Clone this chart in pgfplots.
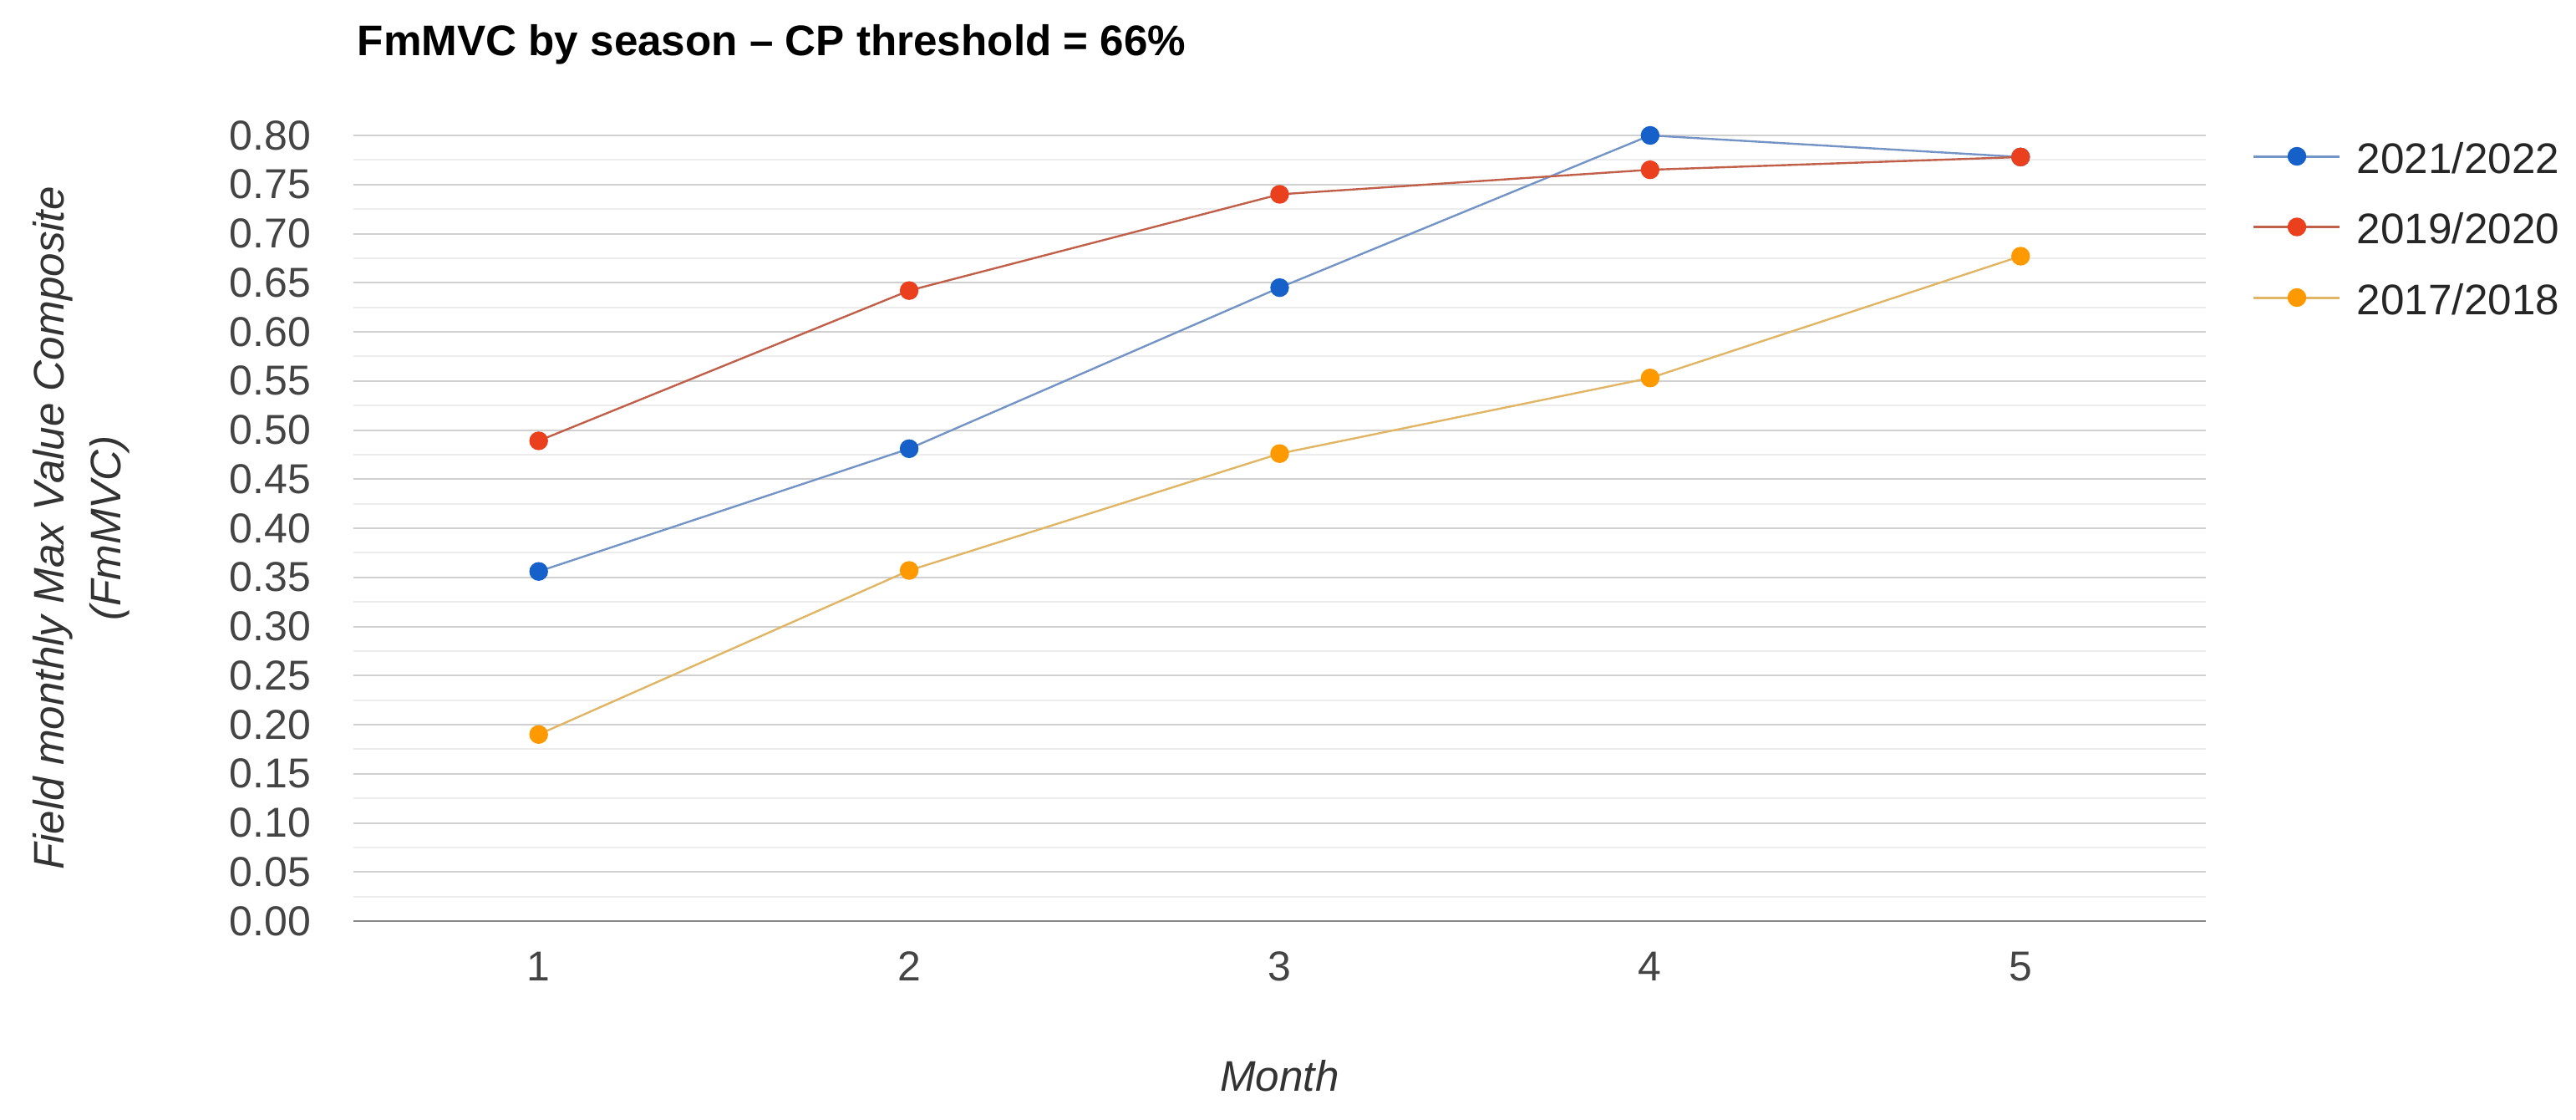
\documentclass[border=0pt]{standalone}
\usepackage{fontspec}
\setmainfont{Liberation Sans}
\usepackage{pgfplots}
\pgfplotsset{compat=1.18}

\definecolor{bluemk}{HTML}{1660C9}
\definecolor{blueline}{HTML}{7494C6}
\definecolor{redmk}{HTML}{EA401E}
\definecolor{redline}{HTML}{C0604A}
\definecolor{orangemk}{HTML}{FF9900}
\definecolor{orangeline}{HTML}{E0B565}
\definecolor{gridmaj}{HTML}{D0D0D0}
\definecolor{gridmin}{HTML}{ECECEC}
\definecolor{basecol}{HTML}{888888}
\definecolor{tickcol}{HTML}{444444}
\definecolor{labcol}{HTML}{333333}

\newcommand\tickfont{\fontsize{12.5}{15}\selectfont}
\newcommand\legfont{\fontsize{12.8}{15}\selectfont}

\begin{document}
\begin{tikzpicture}
\begin{axis}[
  scale only axis,
  width=554.25pt, height=235pt,
  xmin=0.5, xmax=5.5, ymin=0, ymax=0.8,
  xtick={1,2,3,4,5},
  ytick={0,0.05,0.1,0.15,0.2,0.25,0.3,0.35,0.4,0.45,0.5,0.55,0.6,0.65,0.7,0.75,0.8},
  minor y tick num=1,
  xtick style={draw=none}, ytick style={draw=none},
  minor tick style={draw=none},
  axis line style={draw=none},
  ymajorgrids, yminorgrids,
  major grid style={color=gridmaj, line width=0.5pt},
  minor grid style={color=gridmin, line width=0.5pt},
  clip=false,
  ticklabel style={font=\tickfont, text=tickcol},
  yticklabel style={anchor=east, inner sep=0pt, xshift=-12.5pt,
    /pgf/number format/.cd, fixed, fixed zerofill, precision=2, assume math mode=true},
  xticklabel style={anchor=north, inner sep=0pt, yshift=-9pt,
    /pgf/number format/assume math mode=true},
  legend style={at={(1.02526,0.99468)}, anchor=north west, draw=none, fill=none,
    inner sep=0pt, outer sep=0pt, row sep=11.125pt, column sep=4.75pt,
    nodes={inner sep=0pt, text height=10pt, text depth=0pt, font=\legfont, text=black!85}},
  legend cell align=left,
]
\addplot[color=blueline, line width=0.6pt, mark=*, mark size=2.5pt,
  mark options={fill=bluemk, draw=bluemk},
  legend image code/.code={\draw[blueline, line width=0.75pt] (0pt,0pt) -- (25.75pt,0pt);
    \fill[bluemk] (12.875pt,0pt) circle (2.5pt);}]
  coordinates {(1,0.356) (2,0.481) (3,0.645) (4,0.800) (5,0.778)};
\addplot[color=redline, line width=0.6pt, mark=*, mark size=2.5pt,
  mark options={fill=redmk, draw=redmk},
  legend image code/.code={\draw[redline, line width=0.75pt] (0pt,0pt) -- (25.75pt,0pt);
    \fill[redmk] (12.875pt,0pt) circle (2.5pt);}]
  coordinates {(1,0.489) (2,0.642) (3,0.740) (4,0.765) (5,0.778)};
\addplot[color=orangeline, line width=0.6pt, mark=*, mark size=2.5pt,
  mark options={fill=orangemk, draw=orangemk},
  legend image code/.code={\draw[orangeline, line width=0.75pt] (0pt,0pt) -- (25.75pt,0pt);
    \fill[orangemk] (12.875pt,0pt) circle (2.5pt);}]
  coordinates {(1,0.190) (2,0.357) (3,0.476) (4,0.553) (5,0.677)};
\legend{2021/2022, 2019/2020, 2017/2018}
\draw[basecol, line width=0.6pt] (axis cs:0.5,0) -- (axis cs:5.5,0);
\end{axis}
% titles and axis labels
\node[anchor=base west, inner sep=0pt, font=\fontsize{12.8}{15}\selectfont\bfseries]
  at (1pt,258.75pt) {FmMVC by season – CP threshold = 66\%};
\node[anchor=base, inner sep=0pt, font=\fontsize{12.8}{15}\selectfont\itshape, text=labcol]
  at (277.1pt,-50.75pt) {Month};
\node[rotate=90, anchor=base, inner sep=0pt, font=\fontsize{12.8}{15}\selectfont\itshape, text=labcol]
  at (-86.5pt,117.5pt) {Field monthly Max Value Composite};
\node[rotate=90, anchor=base, inner sep=0pt, font=\fontsize{12.8}{15}\selectfont\itshape, text=labcol]
  at (-69.5pt,117.5pt) {(FmMVC)};
\path (-105.75pt,-59.25pt) rectangle (665pt,275.5pt);
\end{tikzpicture}
\end{document}
